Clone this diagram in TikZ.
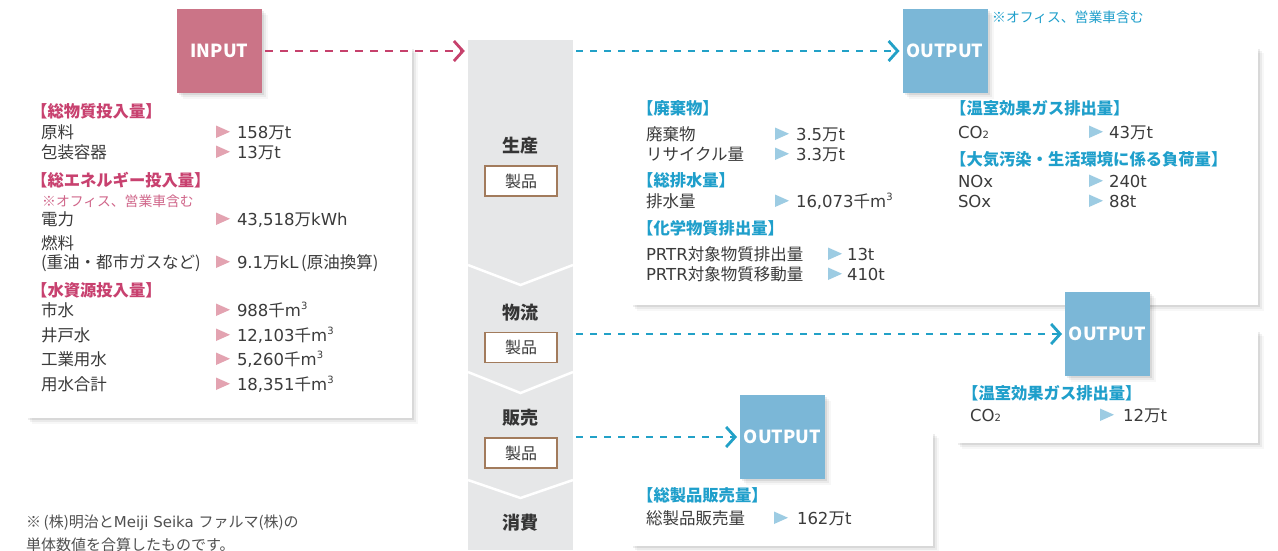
\documentclass[tikz,border=0pt]{standalone}
\usepackage{fontspec}
\setmainfont{Noto Sans CJK JP}
\newfontfamily\latfont{DejaVu Sans}
\usetikzlibrary{arrows.meta,shadows}
\definecolor{txt}{HTML}{3B3B3B}
\definecolor{foot}{HTML}{505050}
\definecolor{pinkbox}{HTML}{CB7487}
\definecolor{pinkhd}{HTML}{C8416F}
\definecolor{pinknote}{HTML}{D0668A}
\definecolor{pinkarr}{HTML}{C6416C}
\definecolor{pinktri}{HTML}{E3A3B1}
\definecolor{bluebox}{HTML}{7BB7D7}
\definecolor{bluehd}{HTML}{1F9FCB}
\definecolor{bluearr}{HTML}{22A1C7}
\definecolor{bluetri}{HTML}{9DCCE3}
\definecolor{colgray}{HTML}{E6E7E8}
\definecolor{boxbrown}{HTML}{A27B5C}
\newcommand\ltn[1]{{\latfont #1}}
\newcommand\cubed{\raisebox{0.42em}{\latfont\fontsize{10}{10}\selectfont 3}}
\newcommand\subtwo{{\latfont\fontsize{10}{10}\selectfont 2}}
% name, xlabel, xtri, xval, ybase, label, value, tricolour
\newcommand\drow[8]{%
  \node[lbl] (#1l) at (#2,#5) {#6};
  \fill[#8] (#3,#5-12.5) -- (#3+14,#5-6.25) -- (#3,#5) -- cycle;
  \node[lbl] (#1v) at (#4,#5) {#7};}
\begin{document}
\begin{tikzpicture}[x=1pt,y=-1pt,
  card/.style={rectangle, fill=white, draw=none, inner sep=0, outer sep=0,
    drop shadow={shadow xshift=2pt, shadow yshift=-2pt, opacity=.07, fill=black},
    drop shadow={shadow xshift=4pt, shadow yshift=-4pt, opacity=.05, fill=black},
    drop shadow={shadow xshift=6pt, shadow yshift=-6pt, opacity=.03, fill=black}},
  sq/.style={card, text=white, font=\fontsize{18}{20}\selectfont\bfseries},
  insq/.style={sq, fill=pinkbox, minimum width=85pt, minimum height=84pt},
  outsq/.style={sq, fill=bluebox, minimum width=85pt, minimum height=84pt},
  lbl/.style={anchor=base west, inner sep=0, outer sep=0, text=txt, font=\fontsize{16.5}{18}\selectfont},
  phd/.style={anchor=base west, inner sep=0, text=pinkhd, font=\fontsize{16.3}{18}\selectfont\bfseries},
  bhd/.style={anchor=base west, inner sep=0, text=bluehd, font=\fontsize{16.3}{18}\selectfont\bfseries},
  stage/.style={anchor=base, inner sep=0, text=txt!90!black, font=\fontsize{18}{20}\selectfont\bfseries},
  prod/.style={rectangle, draw=boxbrown, line width=1.2pt, fill=white, minimum width=72pt, minimum height=30pt, inner sep=0, text=txt, font=\fontsize{16}{18}\selectfont},
  sepline/.style={white, line width=2.5pt},
  foottxt/.style={anchor=base west, inner sep=0, text=foot, font=\fontsize{15}{17}\selectfont},
  parrow/.style={pinkarr, line width=2.8pt, dash pattern=on 8pt off 7pt, -{Straight Barb[length=9pt, width=20pt, line width=2.8pt]}, shorten <=3pt, shorten >=3pt},
  barrow/.style={bluearr, line width=2.8pt, dash pattern=on 7pt off 7pt, -{Straight Barb[length=9pt, width=20pt, line width=2.8pt]}, shorten <=3pt, shorten >=3pt}
]
\useasboundingbox (0,0) rectangle (1278,550);
\fill[white] (0,0) rectangle (1278,550);

% cards
\node[card, minimum width=386pt, minimum height=371pt] (incard) at (219,232.5) {};
\node[card, minimum width=627pt, minimum height=258pt] (oc1) at (944.5,176) {};
\node[card, minimum width=302pt, minimum height=113pt] (oc2) at (1107,386.5) {};
\node[card, minimum width=302pt, minimum height=114pt] (oc3) at (782,489) {};

% column
\node[rectangle, fill=colgray, inner sep=0, minimum width=105pt, minimum height=510pt] (col) at (520.5,295) {};
\draw[sepline] (468,265) -- (520.5,285) -- (573,265);
\draw[sepline] (468,372) -- (520.5,393) -- (573,372);
\draw[sepline] (468,480) -- (520.5,498) -- (573,480);
\node[stage] (s1) at (520.5,152) {生産};
\node[prod] (p1) at (521,181) {製品};
\node[stage] (s2) at (520.5,319) {物流};
\node[prod] (p2) at (521,347.5) {製品};
\node[stage] (s3) at (520.5,424) {販売};
\node[prod] (p3) at (521,453) {製品};
\node[stage] (s4) at (520.5,529) {消費};

% squares
\node[insq] (inp) at (219.5,51) {INPUT};
\node[outsq] (out1) at (945,51) {OUTPUT};
\node[outsq] (out2) at (1107.5,334) {OUTPUT};
\node[outsq] (out3) at (782.5,437) {OUTPUT};

% connectors
\draw[parrow] (inp.east) -- (inp.east -| col.west);
\draw[barrow] (col.east |- out1.west) -- (out1.west);
\draw[barrow] (col.east |- out2.west) -- (out2.west);
\draw[barrow] (col.east |- out3.west) -- (out3.west);

\node[anchor=base west, inner sep=0, text=bluehd, font=\fontsize{13.8}{16}\selectfont] (bnote) at (992,22) {※オフィス、営業車含む};

% input card text
\node[phd] (h1) at (31,117) {【総物質投入量】};
\drow{a}{41}{216}{237}{138}{原料}{\ltn{158}万\ltn{t}}{pinktri}
\drow{b}{41}{216}{237}{158}{包装容器}{\ltn{13}万\ltn{t}}{pinktri}
\node[phd] (h2) at (31,186) {【総エネルギー投入量】};
\node[anchor=base west, inner sep=0, text=pinknote, font=\fontsize{13.8}{16}\selectfont] (pnote) at (42,206) {※オフィス、営業車含む};
\drow{c}{41}{216}{237}{225}{電力}{\ltn{43,518}万\ltn{kWh}}{pinktri}
\node[lbl] (fuel) at (41,249) {燃料};
\drow{d}{41}{216}{237}{268}{(重油・都市ガスなど)}{\ltn{9.1}万\ltn{kL}\,(原油換算)}{pinktri}
\node[phd] (h3) at (31,296) {【水資源投入量】};
\drow{e}{41}{216}{237}{316}{市水}{\ltn{988}千\ltn{m}\cubed}{pinktri}
\drow{f}{41}{216}{237}{341}{井戸水}{\ltn{12,103}千\ltn{m}\cubed}{pinktri}
\drow{g}{41}{216}{237}{365}{工業用水}{\ltn{5,260}千\ltn{m}\cubed}{pinktri}
\drow{h}{41}{216}{237}{390}{用水合計}{\ltn{18,351}千\ltn{m}\cubed}{pinktri}

% output card 1
\node[bhd] (h4) at (637,114) {【廃棄物】};
\drow{i}{646}{775}{796}{140}{廃棄物}{\ltn{3.5}万\ltn{t}}{bluetri}
\drow{j}{646}{775}{796}{160}{リサイクル量}{\ltn{3.3}万\ltn{t}}{bluetri}
\node[bhd] (h5) at (637,186) {【総排水量】};
\drow{k}{646}{775}{796}{207}{排水量}{\ltn{16,073}千\ltn{m}\cubed}{bluetri}
\node[bhd] (h6) at (637,234) {【化学物質排出量】};
\drow{l}{646}{828}{847}{260}{\ltn{PRTR}対象物質排出量}{\ltn{13t}}{bluetri}
\drow{m}{646}{828}{847}{280}{\ltn{PRTR}対象物質移動量}{\ltn{410t}}{bluetri}
\node[bhd] (h7) at (950,114) {【温室効果ガス排出量】};
\drow{n}{958}{1089}{1109}{138}{\ltn{CO}\subtwo}{\ltn{43}万\ltn{t}}{bluetri}
\node[bhd] (h8) at (950,165) {【大気汚染・生活環境に係る負荷量】};
\drow{o}{958}{1089}{1109}{187}{\ltn{NOx}}{\ltn{240t}}{bluetri}
\drow{p}{958}{1089}{1109}{207}{\ltn{SOx}}{\ltn{88t}}{bluetri}

% output card 2
\node[bhd] (h9) at (962,399) {【温室効果ガス排出量】};
\drow{q}{970}{1100}{1123}{421}{\ltn{CO}\subtwo}{\ltn{12}万\ltn{t}}{bluetri}

% output card 3
\node[bhd] (h10) at (637,501) {【総製品販売量】};
\drow{r}{646}{774}{797}{524}{総製品販売量}{\ltn{162}万\ltn{t}}{bluetri}

% footnote
\node[foottxt] (fn1) at (26,527) {※\,(株)明治と\ltn{Meiji Seika }ファルマ(株)の};
\node[foottxt] (fn2) at (26,550) {単体数値を合算したものです。};
\end{tikzpicture}
\end{document}
